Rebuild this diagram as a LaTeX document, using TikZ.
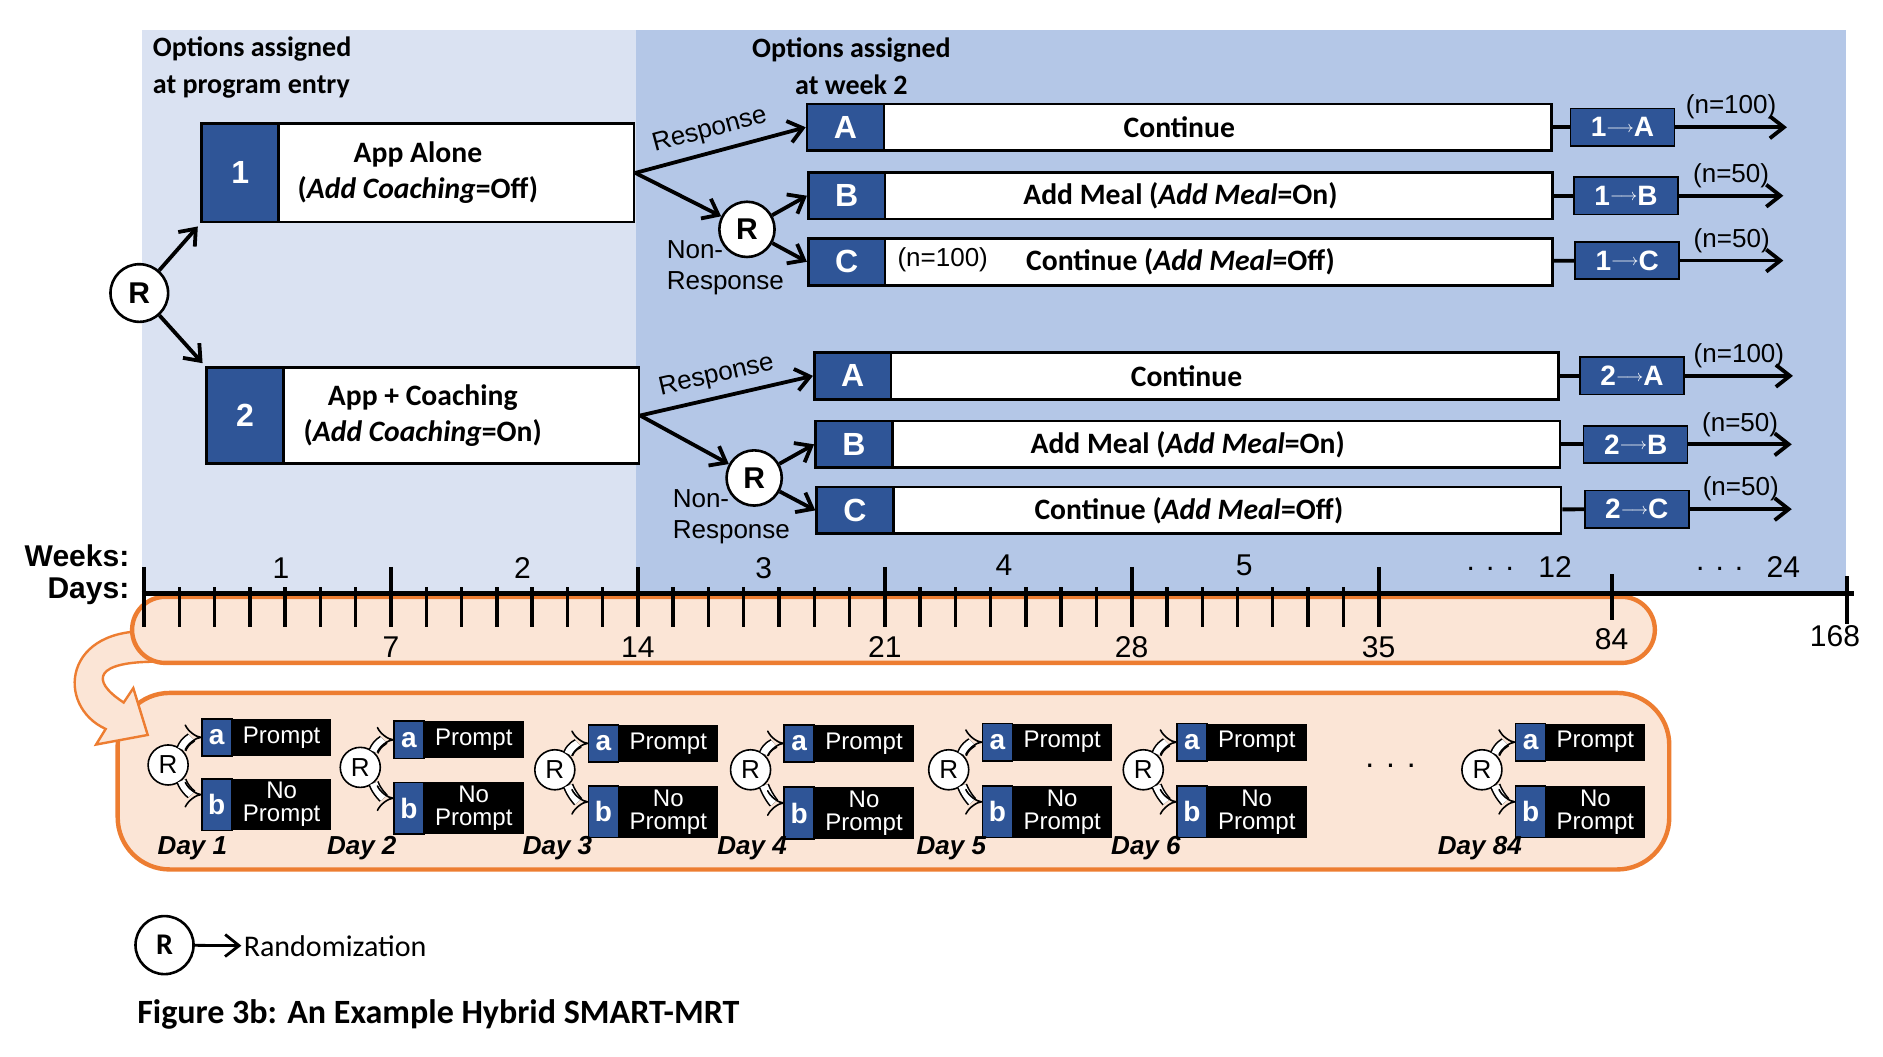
\documentclass[tikz,border=0pt]{standalone}
\usepackage{fontspec}
\setmainfont{Carlito}
\setsansfont{Liberation Sans}
\usetikzlibrary{arrows.meta, positioning}

\definecolor{navy}{RGB}{47,85,151}
\definecolor{panelL}{RGB}{218,226,242}
\definecolor{panelR}{RGB}{180,199,231}
\definecolor{peach}{RGB}{251,229,214}
\definecolor{orng}{RGB}{237,125,49}

\newcommand{\seqto}{\raisebox{2.2pt}{\fontsize{8}{8}\selectfont$\longrightarrow$}}

\begin{document}
\begin{tikzpicture}[
  x=0.6pt, y=-0.6pt,
  rand/.style={circle, draw, line width=1.3pt, fill=white, minimum size=28pt, inner sep=0pt, font=\sffamily\bfseries\fontsize{15}{15}\selectfont},
  optbox/.style={rectangle, draw, line width=1.3pt, fill=white, minimum width=372pt, minimum height=23.4pt, align=center, font=\bfseries\fontsize{14.8}{18}\selectfont},
  optnum/.style={rectangle, draw, line width=1.3pt, fill=navy, text=white, minimum width=38.4pt, minimum height=23.4pt, anchor=west, font=\sffamily\bfseries\fontsize{16}{16}\selectfont},
  seqbox/.style={rectangle, draw, line width=0.8pt, fill=navy, text=white, minimum width=52pt, minimum height=18.6pt, inner sep=0pt, font=\sffamily\bfseries\fontsize{14}{14}\selectfont},
  arrowstyle/.style={-{Straight Barb[length=7pt, width=11pt]}, line width=1.9pt},
  linkstyle/.style={line width=1.9pt},
  lab/.style={font=\sffamily\fontsize{13}{15.6}\selectfont, inner sep=1pt},
  hdr/.style={font=\bfseries\fontsize{14}{18.6}\selectfont, inner sep=0pt},
  axislab/.style={font=\sffamily\fontsize{15}{15}\selectfont, inner sep=0pt},
  smalltick/.style={line width=1.7pt},
  bigtick/.style={line width=2pt},
  band/.style={fill=peach, draw=orng, line width=2.2pt},
  drand/.style={circle, draw, line width=0.8pt, fill=white, minimum size=20pt, inner sep=0pt, font=\sffamily\fontsize{13}{13}\selectfont},
  sq/.style={rectangle, draw=black, line width=0.8pt, fill=navy, text=white, minimum width=15pt, inner sep=0pt, outer sep=0pt, font=\sffamily\bfseries\fontsize{14}{14}\selectfont},
  pbox/.style={rectangle, fill=black, text=white, minimum width=49.8pt, inner sep=0pt, outer sep=0pt, align=center, font=\sffamily\fontsize{12}{11.5}\selectfont},
  dblarrow/.style={double=white, double distance=3.8pt, line width=0.8pt, -{Implies}},
  daylab/.style={font=\sffamily\bfseries\itshape\fontsize{13}{13}\selectfont, inner sep=0pt, anchor=west}
]
\useasboundingbox (0,0) rectangle (1568,880);
\fill[white] (0,0) rectangle (1568,880);

% stage panels
\fill[panelL] (118,25) rectangle (530,494);
\fill[panelR] (530,25) rectangle (1537,494);

\node[hdr, anchor=west, align=left] (hdrL) at (127,56) {Options assigned\\at program entry};
\node[hdr, align=center] (hdrR) at (709,55) {Options assigned\\at week 2};

% first stage
\node[rand, minimum size=28.8pt] (R0) at (116,244) {R};
\node[optbox, minimum width=216pt, minimum height=49.2pt] (o1) at (348,144) {App Alone\\(\textit{Add Coaching}=Off)};
\node[optnum, minimum height=49.2pt] (q1) at (o1.west) {1};
\node[optbox, minimum width=216pt, minimum height=48pt] (o2) at (352,346) {App + Coaching\\(\textit{Add Coaching}=On)};
\node[optnum, minimum height=48pt] (q2) at (o2.west) {2};

% second stage, option 1
\node[optbox] (o1A) at (982,106) {Continue};
\node[optnum] (q1A) at (o1A.west) {A};
\node[optbox] (o1B) at (983,163) {Add Meal (\textit{Add Meal}=On)};
\node[optnum] (q1B) at (o1B.west) {B};
\node[optbox] (o1C) at (983,218) {Continue (\textit{Add Meal}=Off)};
\node[optnum] (q1C) at (o1C.west) {C};
\node[lab] (c1C) at (785,216) {(n=100)};
\node[rand, minimum size=27.6pt] (R1) at (622,191) {R};
\node[lab, align=left] (nr1) at (604,223) {Non-\\Response};

% second stage, option 2
\node[optbox] (o2A) at (988,313) {Continue};
\node[optnum] (q2A) at (o2A.west) {A};
\node[optbox] (o2B) at (989,370) {Add Meal (\textit{Add Meal}=On)};
\node[optnum] (q2B) at (o2B.west) {B};
\node[optbox] (o2C) at (990,425) {Continue (\textit{Add Meal}=Off)};
\node[optnum] (q2C) at (o2C.west) {C};
\node[rand, minimum size=27.6pt] (R2) at (628,398) {R};
\node[lab, align=left] (nr2) at (609,430) {Non-\\Response};

% embedded regimens
\node[seqbox] (s1A) at (1351,106) {1\seqto A};
\node[seqbox] (s1B) at (1354,163) {1\seqto B};
\node[seqbox] (s1C) at (1355,217) {1\seqto C};
\node[seqbox] (s2A) at (1359,313) {2\seqto A};
\node[seqbox] (s2B) at (1362,370) {2\seqto B};
\node[seqbox] (s2C) at (1363,424) {2\seqto C};
\coordinate (e1A) at (1488,106);
\coordinate (e1B) at (1485,163);
\coordinate (e1C) at (1485,217);
\coordinate (e2A) at (1493,313);
\coordinate (e2B) at (1492,370);
\coordinate (e2C) at (1492,424);

\draw[arrowstyle, shorten >=2pt] (R0) -- (q1.south west);
\draw[arrowstyle, shorten >=2pt] (R0) -- (q2.north west);

\draw[arrowstyle] (o1.east) -- node[lab, sloped, above=3pt, pos=0.47]{Response} (q1A.west);
\draw[arrowstyle] (o1.east) -- (R1);
\draw[arrowstyle] (R1) -- (q1B.west);
\draw[arrowstyle] (R1) -- (q1C.west);
\draw[arrowstyle] (o2.east) -- node[lab, sloped, above=3pt, pos=0.47]{Response} (q2A.west);
\draw[arrowstyle] (o2.east) -- (R2);
\draw[arrowstyle] (R2) -- (q2B.west);
\draw[arrowstyle] (R2) -- (q2C.west);

\draw[linkstyle] (o1A) -- (s1A);
\draw[linkstyle] (o1B) -- (s1B);
\draw[linkstyle] (o1C) -- (s1C);
\draw[linkstyle] (o2A) -- (s2A);
\draw[linkstyle] (o2B) -- (s2B);
\draw[linkstyle] (o2C) -- (s2C);
\draw[arrowstyle] (s1A) -- node[lab, above=2pt]{(n=100)} (e1A);
\draw[arrowstyle] (s1B) -- node[lab, above=2pt]{(n=50)} (e1B);
\draw[arrowstyle] (s1C) -- node[lab, above=2pt]{(n=50)} (e1C);
\draw[arrowstyle] (s2A) -- node[lab, above=2pt]{(n=100)} (e2A);
\draw[arrowstyle] (s2B) -- node[lab, above=2pt]{(n=50)} (e2B);
\draw[arrowstyle] (s2C) -- node[lab, above=2pt]{(n=50)} (e2C);

% micro-randomized days
\draw[band, rounded corners=26pt] (98,577) rectangle (1390,724);
\draw[band, line width=1.2pt] (130,526) .. controls (52,520) and (46,588) .. (88,607)
  -- (80,620) -- (123,612) -- (111,573) -- (103,585)
  .. controls (74,566) and (80,551) .. (130,551) -- cycle;
\draw[band, rounded corners=16.5pt] (110,497) rectangle (1378,552);

\foreach \rx/\ry/\ay/\by/\lx/\n in {140/637/614/670/131/1, 300/639/616/673/272/2, 462/641/619/676/435/3, 625/641/619/677/597/4, 790/641/618/676/763/5, 952/641/618/676/925/6, 1234/641/618/676/1197/84}{
  \node[drand] (r\n) at (\rx,\ry) {R};
  \node[sq, minimum height=18.6pt] (qa\n) at ({\rx+40.5},\ay) {a};
  \node[pbox, minimum height=18.6pt, right=0pt of qa\n] (pa\n) {Prompt};
  \node[sq, minimum height=25.8pt] (qb\n) at ({\rx+40.5},\by) {b};
  \node[pbox, minimum height=25.8pt, right=0pt of qb\n] (pb\n) {No\\Prompt};
  \draw[dblarrow] (r\n.50) to[out=70, in=180] (qa\n.west);
  \draw[dblarrow] (r\n.-50) to[out=-70, in=180] ([yshift=5pt]qb\n.west);
  \node[daylab] (dl\n) at (\lx,706) {Day \n};
}
\node[font=\sffamily\fontsize{16}{16}\selectfont] (ddots) at (1158,638) {. . .};

% time axis
\foreach \d in {1,...,34}
  \draw[smalltick] ({120+29.37*\d},489) -- ++(0,33);
\foreach \d in {0,7,...,35}
  \draw[bigtick] ({120+29.37*\d},472) -- ++(0,50);
\draw[bigtick] (1342,478) -- (1342,516);
\draw[bigtick] (1538,480) -- (1538,520);
\draw[line width=2.6pt] (118,494) -- (1544,494);

\node[axislab, font=\sffamily\bfseries\fontsize{15}{15}\selectfont, anchor=east] (wklab) at (108,463) {Weeks:};
\node[axislab, font=\sffamily\bfseries\fontsize{15}{15}\selectfont, anchor=east] (dylab) at (108,492) {Days:};
\node[axislab] (wk1) at (234,473) {1};
\node[axislab] (wk2) at (435,473) {2};
\node[axislab] (wk3) at (636,473) {3};
\node[axislab] (wk4) at (836,471) {4};
\node[axislab] (wk5) at (1036,471) {5};
\node[axislab] (wkd1) at (1241,474) {. . .};
\node[axislab] (wk12) at (1295,472) {12};
\node[axislab] (wkd2) at (1432,474) {. . .};
\node[axislab] (wk24) at (1485,472) {24};
\foreach \d in {7,14,...,35}
  \node[axislab] (day\d) at ({120+29.37*\d},539) {\d};
\node[axislab] (day84) at (1342,532) {84};
\node[axislab] (day168) at (1528,530) {168};

% legend and caption
\node[rand, minimum size=29pt, font=\bfseries\fontsize{15}{15}\selectfont] (leg) at (137,787) {R};
\node[anchor=west, inner sep=1pt, font=\fontsize{15}{15}\selectfont] (legtxt) at (201,788) {Randomization};
\draw[arrowstyle, line width=1.4pt] (leg) -- (legtxt);
\node[anchor=west, inner sep=0pt, font=\bfseries\fontsize{17}{17}\selectfont] (cap) at (114,845) {Figure 3b: An Example Hybrid SMART-MRT};

\end{tikzpicture}
\end{document}
